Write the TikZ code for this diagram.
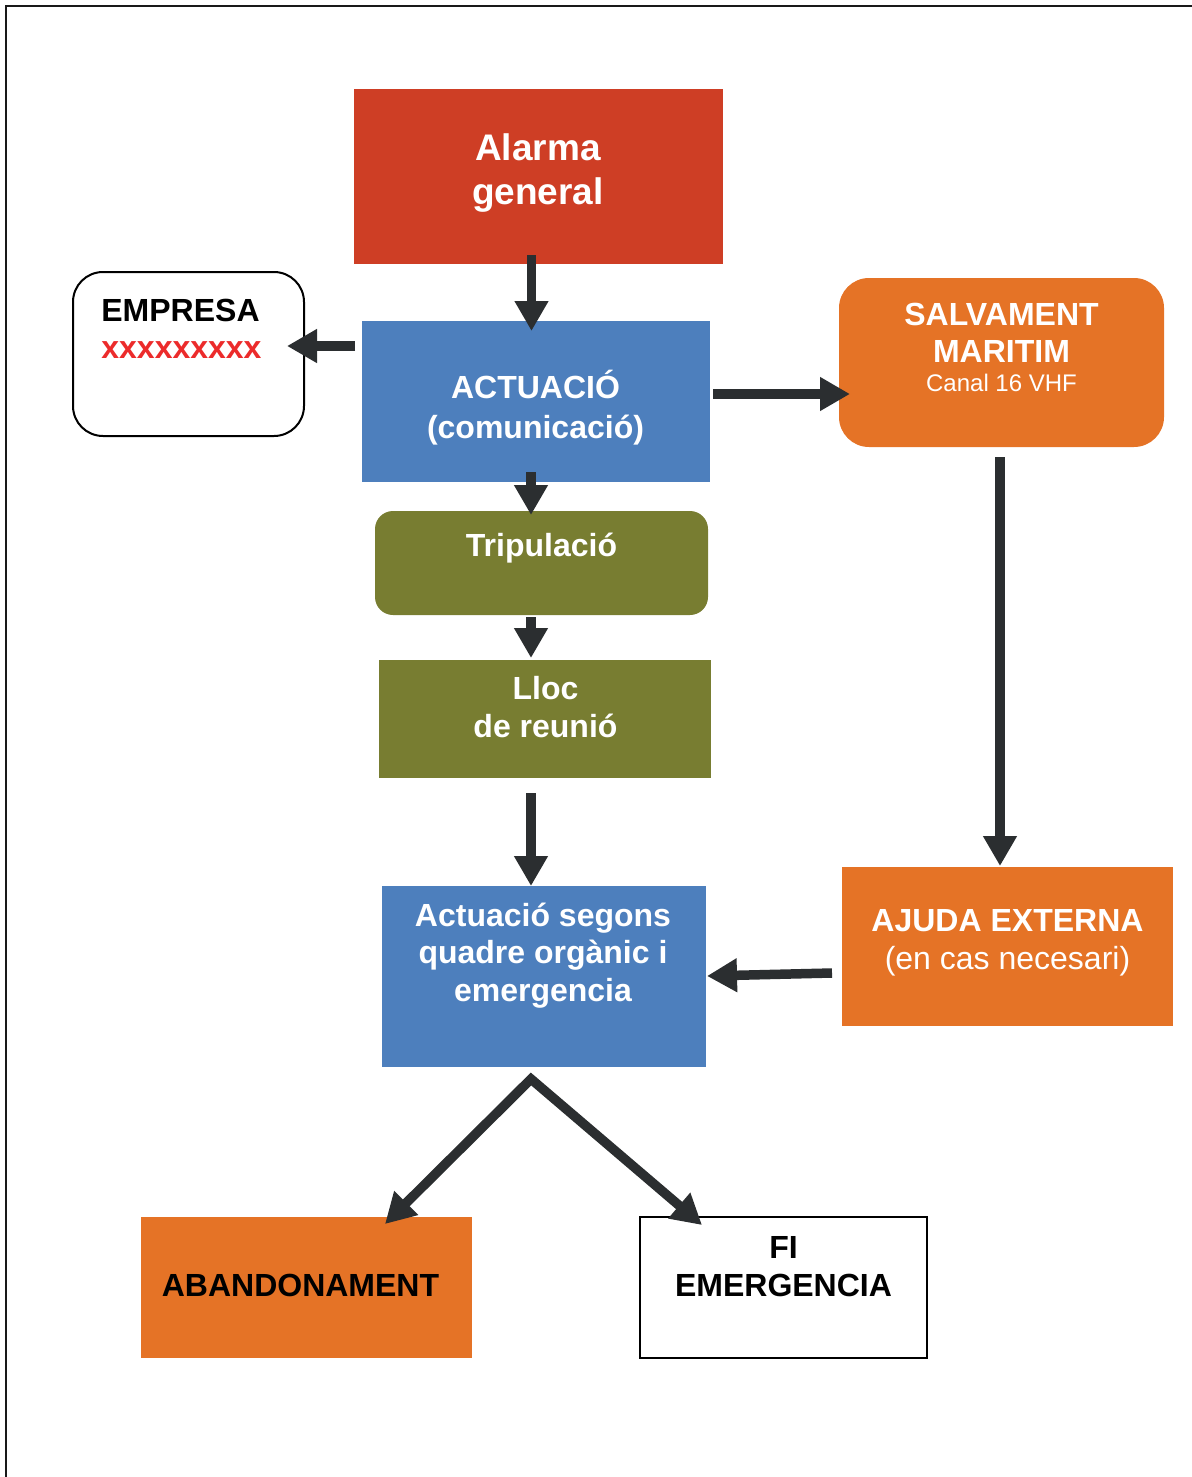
\documentclass[tikz,border=0pt]{standalone}
\usepackage{fontspec}
\setmainfont{Liberation Sans}
\usetikzlibrary{arrows.meta, positioning}

\definecolor{alarmred}{RGB}{206,62,37}
\definecolor{actblue}{RGB}{77,127,189}
\definecolor{salvorange}{RGB}{229,115,38}
\definecolor{tripolive}{RGB}{120,125,49}
\definecolor{arrowgrey}{RGB}{43,46,48}
\definecolor{xred}{RGB}{236,43,43}

\tikzstyle{box} = [rectangle, inner sep=0pt, outer sep=0pt]
\tikzstyle{redbox} = [box, fill=alarmred]
\tikzstyle{bluebox} = [box, fill=actblue]
\tikzstyle{orangebox} = [box, fill=salvorange]
\tikzstyle{olivebox} = [box, fill=tripolive]
\tikzstyle{whitebox} = [box, draw=black, line width=1pt, fill=white]
\tikzstyle{txt} = [inner sep=0pt, align=center, text=white, font=\bfseries\fontsize{16}{19}\selectfont]
\tikzstyle{arrow} = [line width=4.75pt, draw=arrowgrey, ->, >={Triangle[length=15pt, width=16pt]}]

\begin{document}
\begin{tikzpicture}[x=0.5pt, y=-0.5pt]

\useasboundingbox (0,0) rectangle (1192,1477);

\node (alarma) [redbox, minimum width=184.5pt, minimum height=87.5pt] at (538.5,176.5) {};
\node (empresa) [whitebox, rounded corners=15pt, minimum width=115.5pt, minimum height=82pt] at (188.5,354) {};
\node (actuacio) [bluebox, minimum width=174pt, minimum height=80.5pt] at (536,401.5) {};
\node (salvament) [orangebox, rounded corners=15pt, minimum width=162.5pt, minimum height=84.5pt] at (1001.5,362.5) {};
\node (tripulacio) [olivebox, rounded corners=9pt, minimum width=166.5pt, minimum height=52pt] at (541.5,563) {};
\node (lloc) [olivebox, minimum width=166pt, minimum height=59pt] at (545,719) {};
\node (segons) [bluebox, minimum width=162pt, minimum height=90.5pt] at (544,976.5) {};
\node (ajuda) [orangebox, minimum width=165.5pt, minimum height=79.5pt] at (1007.5,946.5) {};
\node (abandon) [orangebox, minimum width=165.5pt, minimum height=70.5pt] at (306.5,1287.5) {};
\node (fi) [whitebox, minimum width=143.5pt, minimum height=70.5pt] at (783.5,1287.5) {};

\node (alarmaTxt) [txt, font=\bfseries\fontsize{18.5}{22}\selectfont] at (538,173) {Alarma\\general};
\node (empresaTxt) [txt, text=black, align=left, anchor=west, font=\bfseries\fontsize{16}{18.4}\selectfont] at (101,329) {EMPRESA\\\textcolor{xred}{xxxxxxxxx}};
\node (actuacioTxt) [txt, font=\bfseries\fontsize{16}{20}\selectfont] at (535.5,408) {ACTUACIÓ\\(comunicació)};
\node (salvamentTxt) [txt, font=\bfseries\fontsize{16}{18.5}\selectfont] at (1001.5,347) {SALVAMENT\\MARITIM\\[-4pt]{\mdseries\fontsize{12}{14}\selectfont Canal 16 VHF}};
\node (tripulacioTxt) [txt] at (541.5,548) {Tripulació};
\node (llocTxt) [txt] at (545.5,707) {Lloc\\de reunió};
\node (segonsTxt) [txt, font=\bfseries\fontsize{16}{18.75}\selectfont] at (543,955.5) {Actuació segons\\quadre orgànic i\\emergencia};
\node (ajudaTxt) [txt] at (1007.5,943) {AJUDA EXTERNA\\{\mdseries (en cas necesari)}};
\node (abandonTxt) [txt, text=black] at (300.5,1285) {ABANDONAMENT};
\node (fiTxt) [txt, text=black] at (783.5,1267) {FI\\EMERGENCIA};

\draw [arrow] ([shift={(-7,-9)}]alarma.south) -- ([shift={(-4.5,10)}]actuacio.north);
\draw [arrow] ([shift={(-7,-55.5)}]actuacio.west) -- ([shift={(-17,-8)}]empresa.east);
\draw [arrow] ([shift={(3,-7.5)}]actuacio.east) -- ([shift={(11,31.5)}]salvament.west);
\draw [arrow] ([shift={(-5,-10)}]actuacio.south) -- ([shift={(-10.5,4)}]tripulacio.north);
\draw [arrow] ([shift={(-10.5,2)}]tripulacio.south) -- ([shift={(-14,-2)}]lloc.north);
\draw [arrow] ([shift={(-14,15)}]lloc.south) -- ([shift={(-13,0)}]segons.north);
\draw [arrow] ([shift={(-1.5,10)}]salvament.south) -- ([shift={(-7.5,-1)}]ajuda.north);
\draw [arrow] ([shift={(-10,26.5)}]ajuda.west) -- ([shift={(1,-0.5)}]segons.east);

% split below the second blue box
\coordinate (split) at ([shift={(-13,12)}]segons.south);
\draw [arrow, <->, line join=miter] ([shift={(78.5,7)}]abandon.north) -- (split) -- ([shift={(-81.5,8)}]fi.north);

% page frame
\draw [line width=1pt, draw=black!90] (6,1490) -- (6,6) -- (1200,6);

\end{tikzpicture}
\end{document}
